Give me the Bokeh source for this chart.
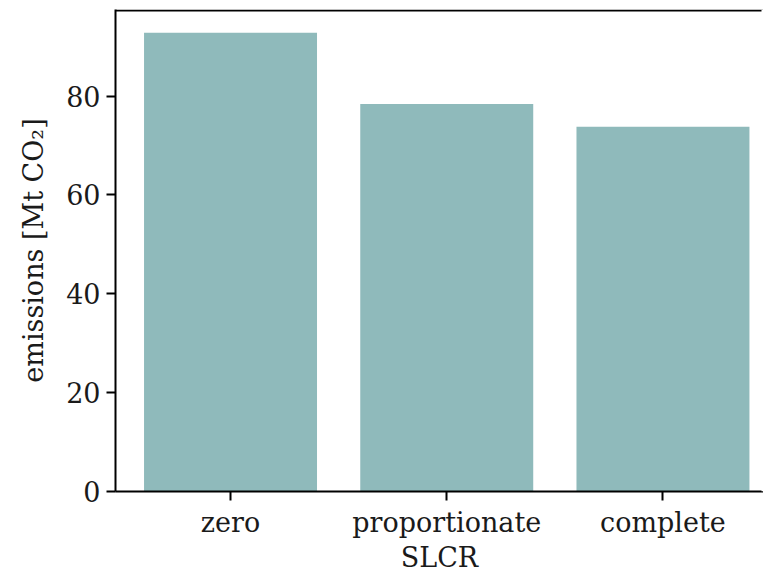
from bokeh.plotting import figure
from bokeh.models import Range1d, FixedTicker, Span, ColumnDataSource
from bokeh.embed import file_html
from bokeh.resources import INLINE

categories = ["zero", "proportionate", "complete"]
emissions = [92.8, 78.4, 73.8]
y_ticks = [0, 20, 40, 60, 80]

FONT = "DejaVu Serif"
TXT = "#1a1a1a"
BAR = "#8fbabb"
X_END = 2.465

idx = list(range(len(categories)))
src = ColumnDataSource(dict(x=idx, top=emissions, cat=categories))

p = figure(width=763, height=575, output_backend="svg", toolbar_location=None,
           x_range=Range1d(-0.532, X_END), y_range=Range1d(0, 97.5),
           min_border_left=115, min_border_top=9, min_border_bottom=83,
           min_border_right=0)
p.outline_line_color = None
p.xgrid.visible = False
p.ygrid.visible = False
p.background_fill_color = "white"
p.border_fill_color = "white"

p.vbar(x="x", top="top", width=0.8, source=src, fill_color=BAR, line_color=None)

p.add_layout(Span(location=97.3, dimension="width", line_color="black", line_width=2))
p.add_layout(Span(location=X_END, dimension="height", line_color="white",
                  line_width=4, level="overlay"))

p.xaxis.ticker = FixedTicker(ticks=idx)
p.xaxis.major_label_overrides = {i: c for i, c in zip(idx, categories)}
p.yaxis.ticker = FixedTicker(ticks=y_ticks)
p.xaxis.axis_label = "SLCR"
p.yaxis.axis_label = "emissions [Mt CO₂]"

for ax in (p.xaxis, p.yaxis):
    ax.axis_line_color = "black"
    ax.axis_line_width = 2
    ax.major_tick_line_color = "black"
    ax.major_tick_line_width = 2
    ax.major_tick_out = 9
    ax.major_tick_in = 0
    ax.minor_tick_line_color = None
    ax.major_label_text_font = FONT
    ax.major_label_text_font_size = "27px"
    ax.major_label_text_color = TXT
    ax.axis_label_text_font = FONT
    ax.axis_label_text_font_size = "27px"
    ax.axis_label_text_font_style = "normal"
    ax.axis_label_text_color = TXT

p.xaxis.major_label_standoff = 6
p.xaxis.axis_label_standoff = 1
p.yaxis.major_label_standoff = 6
p.yaxis.axis_label_standoff = 14

open("out.html", "w").write(file_html(p, INLINE))
